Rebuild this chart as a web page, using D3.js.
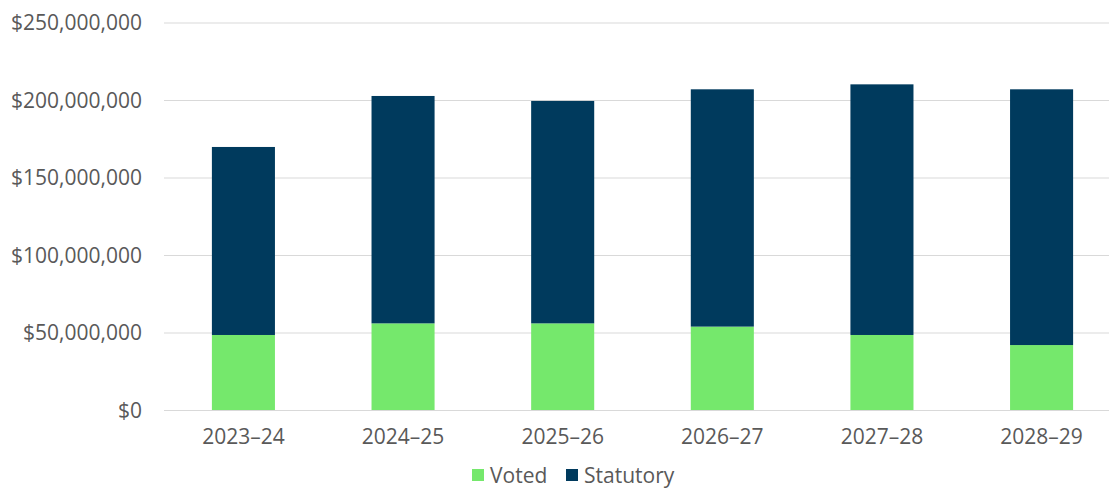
<!DOCTYPE html>
<html>
<head>
<meta charset="utf-8">
<script src="https://cdn.jsdelivr.net/npm/d3@7"></script>
<style>
  body { margin: 0; background: #fff; }
  svg text { font-family: "Open Sans", sans-serif; fill: #595959; }
</style>
</head>
<body>
<svg id="chart" width="1109" height="489"></svg>
<script>
// fiscal years on the x axis
const years = ["2023–24", "2024–25", "2025–26", "2026–27", "2027–28", "2028–29"];
// stacked series (dollars)
const voted = [48400000, 55900000, 55900000, 53800000, 48400000, 41900000];
const statutory = [121300000, 146700000, 143500000, 153100000, 161700000, 165000000];
const seriesNames = ["Voted", "Statutory"];
const seriesColors = ["#75E86C", "#003A5D"];
const yTicks = [0, 50000000, 100000000, 150000000, 200000000, 250000000];

const svg = d3.select("#chart");

const x = d3.scaleBand()
    .domain(years)
    .range([164, 1121])
    .paddingInner(0.605)
    .paddingOuter(0.3);

const y = d3.scaleLinear()
    .domain([0, 250000000])
    .range([410, 22.5]);

let rows = years.map((yr, i) => ({year: yr, Voted: voted[i], Statutory: statutory[i]}));
let stacked = d3.stack().keys(seriesNames)(rows);

// gridlines + y labels
let fmt = d => "$" + d3.format(",")(d);
let yAxis = svg.append("g")
    .attr("transform", "translate(164,0)")
    .call(d3.axisLeft(y).tickValues(yTicks).tickFormat(fmt).tickSize(-960).tickPadding(22));
yAxis.select(".domain").remove();
yAxis.selectAll(".tick line").attr("stroke", "#d9d9d9").attr("stroke-width", 1);
yAxis.selectAll(".tick text")
    .style("font-size", "21px")
    .style("fill", "#595959")
    .attr("dy", "0.35em");

// bars
svg.append("g")
    .selectAll("g")
    .data(stacked)
    .join("g")
    .attr("fill", (d, i) => seriesColors[i])
    .selectAll("rect")
    .data(d => d)
    .join("rect")
    .attr("x", d => x(d.data.year))
    .attr("width", x.bandwidth())
    .attr("y", d => y(d[1]))
    .attr("height", d => y(d[0]) - y(d[1]));

// x labels
let xAxis = svg.append("g")
    .attr("transform", "translate(0,410)")
    .call(d3.axisBottom(x).tickSize(0).tickPadding(20));
xAxis.select(".domain").remove();
xAxis.selectAll(".tick text")
    .style("font-size", "21px")
    .style("fill", "#595959")
    .attr("dy", "0.68em");

// legend
const legendX = [472, 566];
let legend = svg.append("g")
    .selectAll("g")
    .data(seriesNames)
    .join("g")
    .attr("transform", (d, i) => `translate(${legendX[i]},0)`);
legend.append("rect")
    .attr("y", 469)
    .attr("width", 12)
    .attr("height", 12)
    .attr("fill", (d, i) => seriesColors[i]);
legend.append("text")
    .attr("x", 18)
    .attr("y", 483)
    .style("font-size", "21px")
    .text(d => d);
</script>
</body>
</html>
